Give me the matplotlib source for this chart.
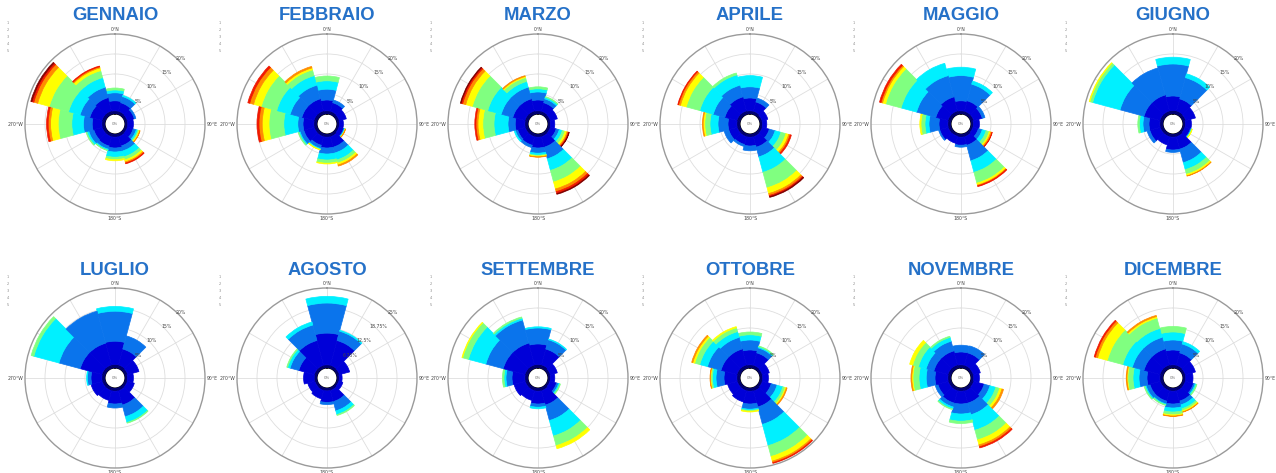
import numpy as np
import matplotlib
matplotlib.use("Agg")
import matplotlib.pyplot as plt

# Monthly wind roses: cumulative frequency (%) per direction sector,
# one entry per wind-speed class (calm → strongest).
months = ["GENNAIO", "FEBBRAIO", "MARZO", "APRILE", "MAGGIO", "GIUGNO",
          "LUGLIO", "AGOSTO", "SETTEMBRE", "OTTOBRE", "NOVEMBRE", "DICEMBRE"]
directions = [0, 30, 60, 90, 120, 150, 180, 210, 240, 270, 300, 330]
speed_classes = ["1", "2", "3", "4", "5", "6", "7", "8", "9"]

gennaio = [[0.8, 3.3, 5.3, 6.0, 6.5], [0.8, 3.0, 4.6, 4.9], [0.7, 2.5, 2.9], [0.7, 2.1],
           [0.7, 2.2, 3.0, 3.4, 3.7, 3.9, 4.0], [0.8, 3.2, 4.5, 6.0, 6.8, 7.3, 7.6, 7.8],
           [0.8, 3.5, 4.5, 5.8, 6.4, 6.7], [0.8, 3.2, 4.0, 4.3, 4.4], [0.8, 3.0, 4.3, 4.8, 5.0],
           [0.8, 3.2, 5.4, 8.3, 11.7, 13.6, 14.2, 14.6],
           [0.9, 4.0, 6.5, 9.5, 14.5, 17.5, 18.5, 19.0, 19.3],
           [0.9, 4.3, 7.0, 9.5, 11.3, 12.0, 12.3, 12.5]]
febbraio = [[0.8, 3.5, 6.2, 8.3, 9.5], [0.8, 3.0, 3.7], [0.7, 2.5], [0.6, 1.6],
            [0.6, 1.8, 2.0, 2.1, 2.2, 2.25, 2.3], [0.8, 3.5, 5.0, 6.8, 7.6, 8.1, 8.4],
            [0.8, 3.5, 5.0, 6.5, 7.3, 7.5], [0.8, 3.0, 3.8, 4.0, 4.1, 4.2], [0.8, 3.5, 4.5, 4.8, 5.0],
            [0.8, 3.5, 4.8, 8.3, 12.0, 13.7, 14.5, 15.0],
            [0.9, 4.0, 7.0, 10.5, 14.5, 16.5, 17.5, 18.0],
            [0.9, 4.0, 7.5, 10.0, 11.5, 12.0, 12.4]]
marzo = [[0.8, 3.5, 5.5, 6.3, 6.8], [0.8, 3.0, 4.0, 4.4, 4.6], [0.7, 2.5], [0.6, 1.7],
         [0.7, 2.2, 3.0, 3.8, 4.5, 5.0, 5.3, 5.5, 5.6],
         [0.8, 3.5, 6.5, 9.5, 12.5, 14.3, 15.0, 15.5, 15.7],
         [0.8, 3.5, 4.8, 5.3, 5.5, 5.7, 5.8], [0.8, 3.0, 3.6], [0.8, 2.8, 3.4, 3.7],
         [0.8, 3.2, 5.0, 8.5, 11.3, 12.5, 13.0, 13.3],
         [0.9, 4.0, 7.0, 10.5, 14.5, 16.2, 17.0, 17.4, 17.6],
         [0.9, 4.0, 7.0, 8.5, 9.5, 9.8, 10.0]]
aprile = [[0.8, 4.0, 6.8, 9.6], [0.8, 3.2, 4.2], [0.6, 2.1], [0.6, 1.7],
          [0.7, 2.5, 4.0, 5.5, 6.8, 7.5, 7.9, 8.2],
          [0.8, 3.5, 6.0, 10.0, 14.0, 15.5, 16.0, 16.3, 16.5],
          [0.8, 3.0, 4.2], [0.8, 2.8, 3.3], [0.8, 3.0, 4.2],
          [0.8, 3.0, 5.5, 7.5, 8.8, 9.2, 9.4],
          [0.9, 4.0, 7.0, 10.5, 14.0, 15.5, 16.0, 16.2],
          [0.9, 4.5, 7.5, 10.2, 10.7]]
maggio = [[0.8, 3.3, 9.6, 11.7], [0.8, 3.5, 7.8, 8.6], [0.8, 3.0, 3.7], [0.6, 2.1],
          [0.6, 2.0, 3.0, 4.0, 4.8, 5.2, 5.5, 5.6],
          [0.8, 3.0, 7.0, 10.0, 12.8, 13.3, 13.5, 13.7],
          [0.8, 2.8, 3.3], [0.7, 2.5], [0.8, 3.0, 3.3],
          [0.8, 3.0, 5.5, 6.5, 7.5, 7.8],
          [0.9, 4.0, 9.0, 13.0, 17.0, 17.8, 18.2, 18.6],
          [0.9, 4.5, 10.0, 13.2]]
giugno = [[0.9, 4.5, 12.5, 14.2], [0.9, 4.0, 9.5, 10.5], [0.8, 3.3], [0.6, 2.1],
          [0.6, 2.0, 2.2, 2.3, 2.4, 2.5], [0.8, 4.0, 7.5, 9.3, 10.5, 10.9, 11.0],
          [0.8, 4.0, 4.6], [0.8, 2.9], [0.8, 3.5, 4.2],
          [0.8, 3.5, 5.0, 5.9, 6.3],
          [0.9, 5.0, 11.2, 18.3, 19.0, 19.2],
          [0.9, 5.0, 12.0]]
luglio = [[0.9, 6.7, 14.2, 15.4], [0.9, 5.0, 8.4], [0.8, 3.7], [0.6, 2.1],
          [0.7, 2.5], [0.8, 4.5, 7.5, 9.0, 9.2],
          [0.8, 4.0, 5.0], [0.8, 3.3], [0.8, 3.7],
          [0.8, 3.5, 4.4, 4.6],
          [0.9, 6.5, 12.0, 18.5, 19.2],
          [0.9, 6.5, 14.8]]
agosto = [[1.0, 10.9, 20.3, 22.4], [1.0, 9.0, 12.0, 12.3], [0.9, 4.2], [0.7, 1.6],
          [0.7, 2.0], [0.9, 4.5, 7.5, 8.7, 9.0],
          [0.9, 4.5, 5.2], [0.9, 3.6], [0.8, 3.1],
          [0.9, 4.2],
          [1.0, 6.0, 8.8, 9.6, 9.9],
          [1.0, 9.0, 14.0, 15.0]]
settembre = [[0.9, 6.0, 10.0, 10.3], [0.9, 5.0, 7.4, 7.6], [0.7, 2.5], [0.6, 1.7],
             [0.6, 2.3, 2.8, 3.1, 3.3], [0.8, 4.5, 8.5, 12.5, 15.0, 15.8],
             [0.8, 4.0, 4.8, 5.2], [0.8, 3.3], [0.8, 3.7],
             [0.8, 4.0, 5.5, 6.0, 6.4],
             [0.9, 6.5, 11.0, 15.5, 17.0, 17.2],
             [0.9, 6.5, 12.5, 13.0, 13.3]]
ottobre = [[0.8, 4.5, 7.0, 8.3, 9.0], [0.8, 4.0, 5.3, 5.6, 5.8], [0.7, 2.5], [0.7, 2.1],
           [0.7, 3.0, 4.5, 6.0, 6.6, 6.9, 7.1],
           [0.9, 5.0, 9.5, 15.0, 17.8, 19.0, 19.4, 19.6],
           [0.8, 4.0, 5.3, 5.6, 5.8, 6.0], [0.8, 3.7], [0.8, 3.3],
           [0.8, 4.0, 6.0, 6.9, 7.3, 7.4, 7.5],
           [0.9, 5.0, 8.5, 10.5, 11.8, 12.3, 12.6],
           [0.9, 5.0, 8.0, 9.5, 10.5, 10.8]]
novembre = [[0.8, 4.0, 5.7], [0.8, 4.0, 5.8], [0.7, 2.5], [0.7, 2.1],
            [0.8, 3.5, 5.0, 6.5, 7.5, 8.1, 8.5],
            [0.9, 4.0, 7.0, 11.0, 13.5, 14.8, 15.3, 15.6],
            [0.8, 4.0, 6.5, 8.3, 8.9], [0.8, 4.0, 5.0, 5.5, 5.7], [0.8, 3.5, 4.2],
            [0.8, 4.0, 6.2, 8.0, 9.5, 9.8, 10.0],
            [0.9, 4.5, 6.5, 8.5, 10.0, 10.8],
            [0.9, 4.5, 7.0, 8.0, 8.3]]
dicembre = [[0.8, 4.5, 7.0, 9.0, 10.4], [0.8, 4.0, 6.3, 6.9], [0.7, 3.3], [0.7, 2.5],
            [0.7, 2.8, 3.2, 3.5, 3.7], [0.8, 3.5, 4.5, 5.5, 6.0, 6.3, 6.4],
            [0.8, 4.0, 5.0, 6.0, 6.7, 7.0, 7.1], [0.8, 3.5, 4.2, 4.4, 4.6],
            [0.8, 3.5, 4.5, 4.8, 5.0],
            [0.8, 4.0, 6.0, 7.5, 8.8, 9.0, 9.2],
            [0.9, 5.0, 8.0, 10.5, 14.5, 17.0, 17.6, 17.9],
            [0.9, 5.0, 8.0, 10.3, 13.0, 13.4, 13.7]]

monthly = [gennaio, febbraio, marzo, aprile, maggio, giugno,
           luglio, agosto, settembre, ottobre, novembre, dicembre]
scale_max = [20, 20, 20, 20, 20, 20, 20, 25, 20, 20, 20, 20]

W, H = 1276, 473
col_x = [115, 327, 538, 750, 961, 1173]
row_y = [124, 378]
title_y = [15, 270]
R = 90
title_color = "#2571C8"
# jet-style palette, one colour per speed class
speed_colors = ["#000070", "#0000D8", "#0A74EC", "#00F0FF", "#80FF80",
                "#FFFF00", "#FF8C00", "#F01800", "#800000"]

fig = plt.figure(figsize=(W / 100, H / 100), dpi=100)
fig.patch.set_facecolor("white")

for i, (name, data) in enumerate(zip(months, monthly)):
    row, col = divmod(i, 6)
    cx, cy = col_x[col], row_y[row]
    rmax = scale_max[i]
    ax = fig.add_axes([(cx - R) / W, 1 - (cy + R) / H, 2 * R / W, 2 * R / H],
                      projection="polar")
    ax.set_theta_zero_location("N")
    ax.set_theta_direction(-1)
    ax.set_ylim(0, rmax)
    ax.set_rorigin(-rmax * 0.125)
    ax.set_axisbelow(True)

    width = np.radians(360 / len(directions))
    for d, cum in zip(directions, data):
        cum = np.asarray(cum)
        bottoms = np.concatenate([[0], cum[:-1]])
        cols = speed_colors[:len(cum)]
        ax.bar(np.full(len(cum), np.radians(d)), cum - bottoms, width=width,
               bottom=bottoms, color=cols, edgecolor=cols, linewidth=0.5,
               zorder=3)

    rings = [rmax * k / 4 for k in (1, 2, 3, 4)]
    ax.set_yticks(rings[:-1])
    ax.set_yticklabels([])
    ax.set_xticks(np.radians(np.arange(0, 360, 30)))
    ax.set_xticklabels([])
    ax.grid(True, color="#dedede", linewidth=0.6)
    ax.spines["polar"].set_color("#9a9a9a")
    ax.spines["polar"].set_linewidth(1.0)
    ax.spines["inner"].set_visible(False)

    for rv in rings:
        lbl = f"{rv:g}%"
        ax.text(np.radians(45), rv + rmax * 0.03, lbl, fontsize=3.3,
                color="#444444", ha="center", va="center", zorder=5)
    ax.text(0, rmax * 1.02, "0°N", fontsize=3.3, color="#444444",
            ha="center", va="bottom")
    ax.text(np.radians(90), rmax * 1.02, "90°E", fontsize=3.3, color="#444444",
            ha="left", va="center")
    ax.text(np.radians(180), rmax * 1.02, "180°S", fontsize=3.3, color="#444444",
            ha="center", va="top")
    ax.text(np.radians(270), rmax * 1.02, "270°W", fontsize=3.3, color="#444444",
            ha="right", va="center")
    ax.text(0, -rmax * 0.125, "0%", fontsize=2.8, color="#777777",
            ha="center", va="center", zorder=6)

    fig.text(cx / W, 1 - title_y[row] / H, name, ha="center", va="center",
             fontsize=13.3, fontweight="bold", color=title_color,
             family="Liberation Sans")

    # speed-class key in the corner of each panel
    for k, s in enumerate(speed_classes[:5]):
        fig.text((cx - 107) / W, 1 - (cy - 101 + k * 7) / H, s, fontsize=2.5,
                 color="#888888", ha="center", va="center")

fig.savefig("out.png", dpi=100, facecolor="white")
